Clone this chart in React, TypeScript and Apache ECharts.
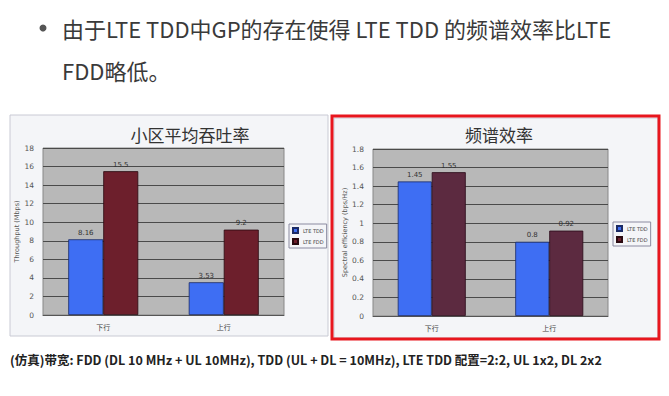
import React, { useEffect, useRef } from "react";
import * as echarts from "echarts";

const categories = ["下行", "上行"];
const seriesNames = ["LTE TDD", "LTE FDD"];
const throughputTDD = [8.16, 3.53];
const throughputFDD = [15.5, 9.2];
const spectralTDD = [1.45, 0.8];
const spectralFDD = [1.55, 0.92];

const headline1 = "由于LTE TDD中GP的存在使得 LTE TDD 的频谱效率比LTE";
const headline2 = "FDD略低。";
const footnote =
  "(仿真)带宽: FDD (DL 10 MHz + UL 10MHz), TDD (UL + DL = 10MHz), LTE TDD 配置=2:2, UL 1x2, DL 2x2";
const title1 = "小区平均吞吐率";
const title2 = "频谱效率";

const CJK = '"Noto Sans CJK SC", "Noto Sans", sans-serif';
const BLUE = "#3e6ef3";
const RED1 = "#6d1f2c";
const RED2 = "#5c2a40";

export default function App() {
  const ref = useRef<HTMLDivElement>(null);
  useEffect(() => {
    const chart = echarts.init(ref.current!, undefined, { renderer: "svg" });
    const axisLabelStyle = { fontSize: 7.5, color: "#555", fontFamily: "DejaVu Sans" };
    const yAxisCommon = {
      type: "value" as const,
      min: 0,
      axisLine: { show: false },
      axisTick: { show: false },
      splitLine: { lineStyle: { color: "#4a4a4a", width: 1 } },
      nameLocation: "middle" as const,
      nameTextStyle: { fontSize: 6.5, color: "#555", fontFamily: "DejaVu Sans" },
    };
    const xAxisCommon = {
      type: "category" as const,
      data: categories,
      axisLine: { lineStyle: { color: "#555" } },
      axisTick: { show: false },
      axisLabel: { fontSize: 7, color: "#444", margin: 8, fontFamily: CJK },
    };
    const barLabel = {
      show: true,
      position: "top" as const,
      fontSize: 7,
      color: "#333",
      distance: 3,
      fontFamily: "DejaVu Sans",
    };
    const legendCommon = {
      orient: "vertical" as const,
      itemWidth: 5,
      itemHeight: 5,
      itemGap: 4,
      icon: "rect",
      padding: [3, 3, 3, 3],
      borderColor: "#8a8aa0",
      borderWidth: 1,
      backgroundColor: "#f4f5f8",
      textStyle: { fontSize: 5, color: "#444", fontFamily: "DejaVu Sans" },
      data: seriesNames,
    };
    chart.setOption({
      animation: false,
      backgroundColor: "#ffffff",
      title: [
        {
          text: title1,
          left: 185,
          top: 121,
          textAlign: "center",
          textStyle: { fontSize: 17, fontWeight: "normal", color: "#333", fontFamily: CJK },
        },
        {
          text: title2,
          left: 494,
          top: 121,
          textAlign: "center",
          textStyle: { fontSize: 17, fontWeight: "normal", color: "#333", fontFamily: CJK },
        },
      ],
      legend: [
        { ...legendCommon, left: 289, top: 224 },
        { ...legendCommon, left: 613, top: 222 },
      ],
      grid: [
        { left: 43, top: 148, width: 241, height: 167, show: true, backgroundColor: "#b8b8b8", borderColor: "#888", borderWidth: 1 },
        { left: 373, top: 149, width: 235, height: 167, show: true, backgroundColor: "#b8b8b8", borderColor: "#888", borderWidth: 1 },
      ],
      xAxis: [
        { ...xAxisCommon, gridIndex: 0 },
        { ...xAxisCommon, gridIndex: 1 },
      ],
      yAxis: [
        {
          ...yAxisCommon,
          gridIndex: 0,
          max: 18,
          interval: 2,
          name: "Throughput (Mbps)",
          nameGap: 22,
          axisLabel: { ...axisLabelStyle, margin: 9 },
        },
        {
          ...yAxisCommon,
          gridIndex: 1,
          max: 1.8,
          interval: 0.2,
          name: "Spectral efficiency (bps/Hz)",
          nameGap: 24,
          axisLabel: {
            ...axisLabelStyle,
            margin: 9,
            formatter: (v: number) => String(Number(v.toFixed(1))),
          },
        },
      ],
      series: [
        {
          name: seriesNames[0], type: "bar", xAxisIndex: 0, yAxisIndex: 0, data: throughputTDD,
          barWidth: 35, barGap: "0%",
          itemStyle: { color: BLUE, borderColor: "#1b2b66", borderWidth: 0.8 }, label: barLabel,
        },
        {
          name: seriesNames[1], type: "bar", xAxisIndex: 0, yAxisIndex: 0, data: throughputFDD,
          barWidth: 35, barGap: "0%",
          itemStyle: { color: RED1, borderColor: "#2a0a10", borderWidth: 0.8 }, label: barLabel,
        },
        {
          name: seriesNames[0], type: "bar", xAxisIndex: 1, yAxisIndex: 1, data: spectralTDD,
          barWidth: 34, barGap: "0%",
          itemStyle: { color: BLUE, borderColor: "#1b2b66", borderWidth: 0.8 }, label: barLabel,
        },
        {
          name: seriesNames[1], type: "bar", xAxisIndex: 1, yAxisIndex: 1, data: spectralFDD,
          barWidth: 34, barGap: "0%",
          itemStyle: { color: RED2, borderColor: "#2a0a18", borderWidth: 0.8 }, label: barLabel,
        },
      ],
      graphic: [
        { type: "rect", z: -20, silent: true, shape: { x: 10, y: 115, width: 318, height: 221 }, style: { fill: "#f4f5f8", stroke: "#c9cad4", lineWidth: 1 } },
        { type: "rect", z: -20, silent: true, shape: { x: 334, y: 118, width: 324, height: 220 }, style: { fill: "#f4f5f8", stroke: "#c9cad4", lineWidth: 1 } },
        { type: "rect", z: 100, silent: true, shape: { x: 332, y: 116, width: 327, height: 223 }, style: { fill: "none", stroke: "#e8161e", lineWidth: 3 } },
        { type: "circle", z: 10, shape: { cx: 43, cy: 28, r: 3.5 }, style: { fill: "#555" } },
        { type: "text", z: 10, x: 62, y: 28, style: { text: headline1, fontSize: 22, fill: "#3a3a3a", fontFamily: CJK, verticalAlign: "middle" } },
        { type: "text", z: 10, x: 62, y: 70, style: { text: headline2, fontSize: 22, fill: "#3a3a3a", fontFamily: CJK, verticalAlign: "middle" } },
        { type: "text", z: 10, x: 10, y: 359, style: { text: footnote, fontSize: 12.5, fontWeight: "bold", fill: "#222", fontFamily: CJK, verticalAlign: "middle" } },
      ],
    });
    return () => chart.dispose();
  }, []);
  return (
    <div
      ref={ref}
      style={{ position: "absolute", left: 0, top: 0, width: 669, height: 396 }}
    />
  );
}
